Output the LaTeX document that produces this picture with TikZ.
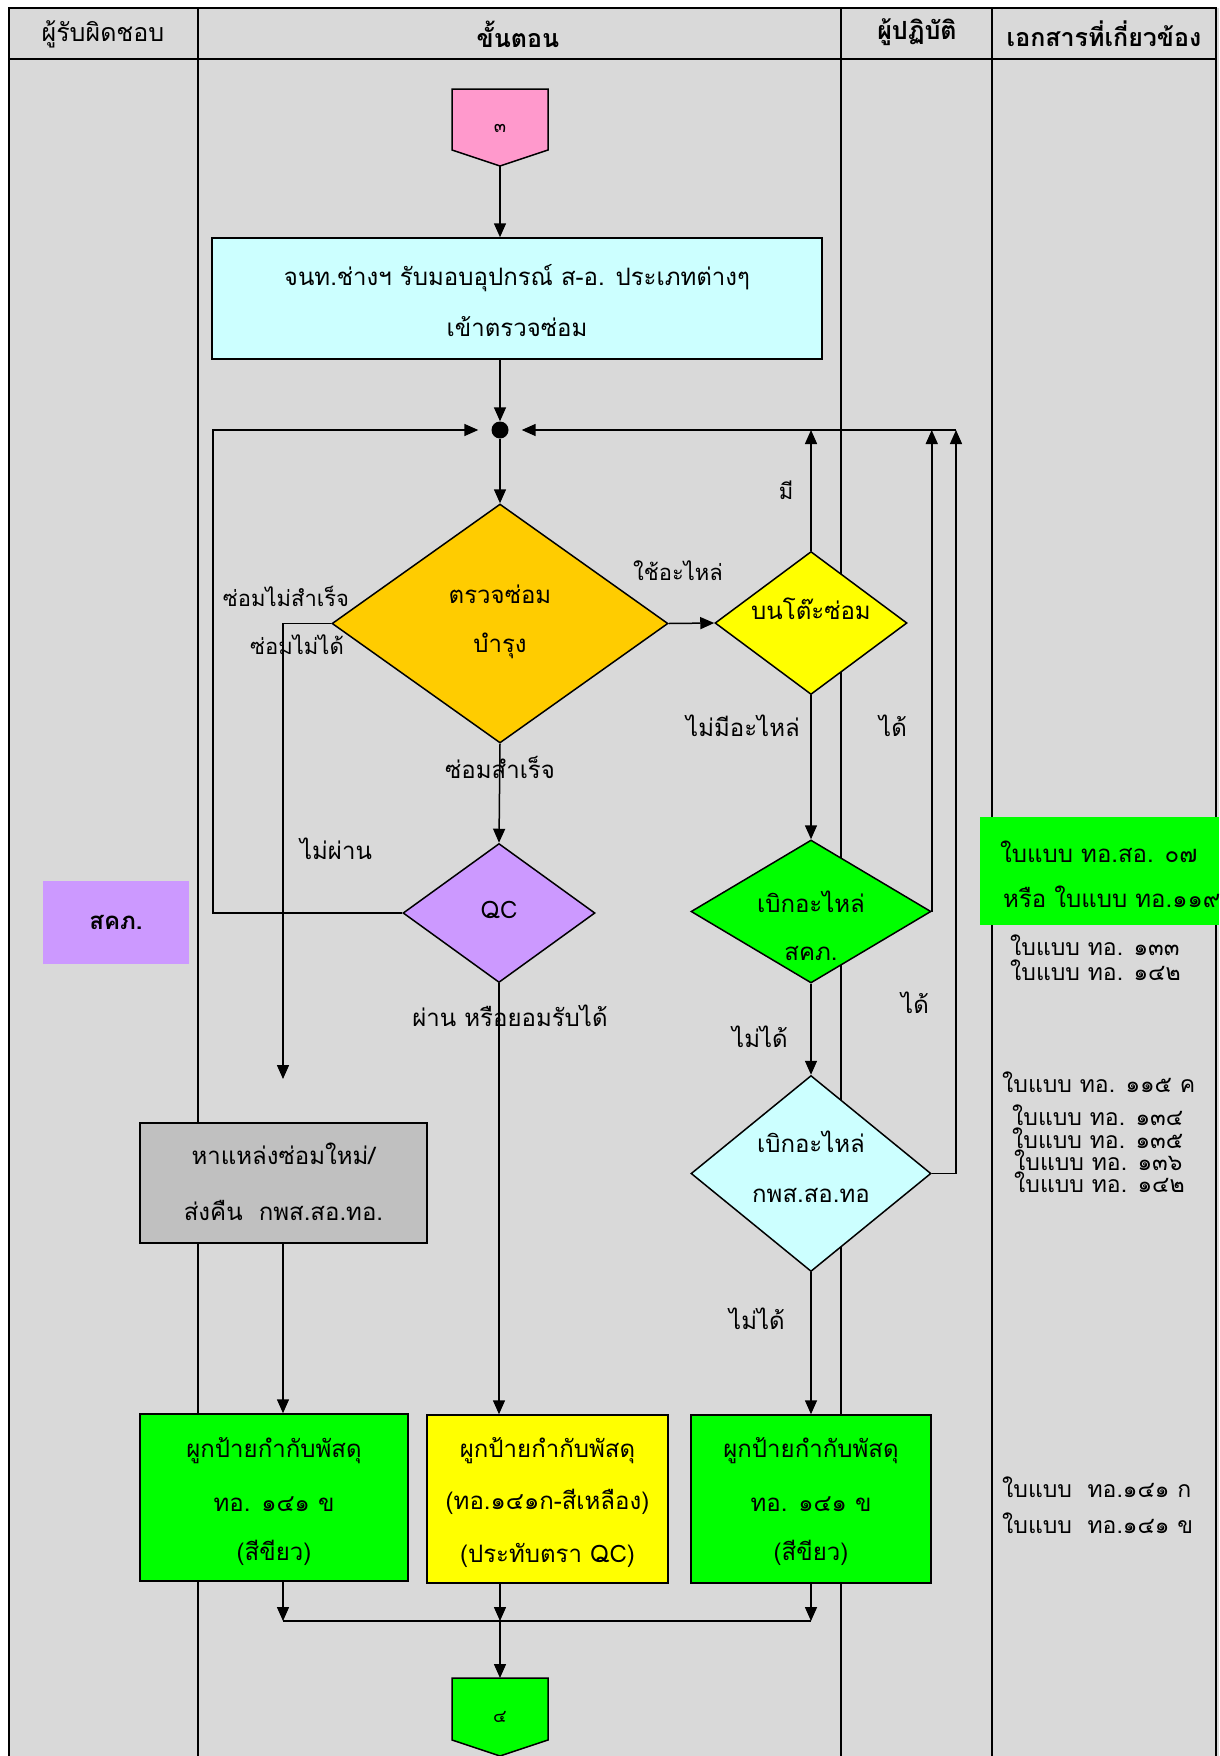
\documentclass[tikz,border=0pt]{standalone}
\usepackage{fontspec}
\setmainfont{Loma}[Script=Thai]
\usetikzlibrary{arrows.meta,shapes.geometric}
\definecolor{bgg}{HTML}{D9D9D9}
\definecolor{pinkc}{HTML}{FF99CC}
\definecolor{cyanb}{HTML}{CCFFFF}
\definecolor{orng}{HTML}{FFCC00}
\definecolor{yelw}{HTML}{FFFF00}
\definecolor{grn}{HTML}{00FF00}
\definecolor{purp}{HTML}{CC99FF}
\definecolor{grayb}{HTML}{C0C0C0}
\tikzset{
  frm/.style={line width=2pt},
  ln/.style={line width=1.5pt},
  arr/.style={line width=1.5pt,-{Triangle[length=14pt,width=12pt]}},
  shp/.style={draw,line width=1.5pt,inner sep=0pt},
  hdr/.style={font=\fontsize{25}{28}\selectfont},
  hdrb/.style={font=\bfseries\fontsize{25}{28}\selectfont},
  txt/.style={font=\fontsize{24}{28}\selectfont,inner sep=0pt},
  lbl/.style={font=\fontsize{22}{26}\selectfont,inner sep=0pt},
  doc/.style={font=\fontsize{23}{26}\selectfont,inner sep=0pt,anchor=west},
}
\begin{document}
\begin{tikzpicture}[x=1pt,y=-1pt]
\useasboundingbox (0,0) rectangle (1219,1756);
\fill[bgg] (9,8) rectangle (1219,1756);
% frame and columns
\draw[frm] (9,1756) -- (9,8) -- (1216,8) -- (1216,1756);
\draw[frm] (9,59) -- (1216,59);
\draw[frm] (198,8) -- (198,1756);
\draw[frm] (841,8) -- (841,1756);
\draw[frm] (992,8) -- (992,1756);
% headers
\node[hdr] (h1) at (103,34) {ผู้รับผิดชอบ};
\node[hdrb] (h2) at (518,34) {ขั้นตอน};
\node[hdrb] (h3) at (917,32) {ผู้ปฏิบัติ};
\node[hdrb] (h4) at (1104,34) {เอกสารที่เกี่ยวข้อง};
% connector 3
\filldraw[fill=pinkc,line width=1.5pt] (452,89) -- (548,89) -- (548,150) -- (500,166) -- (452,150) -- cycle;
\node[font=\fontsize{18}{20}\selectfont] (c3) at (500,128) {๓};
\coordinate (c3b) at (500,166);
% receive box
\node[shp,fill=cyanb,minimum width=610pt,minimum height=121pt] (box1) at (517,298.5) {};
\node[txt] (box1a) at (517,278) {จนท.ช่างฯ รับมอบอุปกรณ์ ส-อ. ประเภทต่างๆ};
\node[txt] (box1b) at (517,327) {เข้าตรวจซ่อม};
% junction
\node[circle,fill=black,inner sep=0pt,minimum size=17pt] (j) at (500,430) {};
% diamonds
\node[shp,diamond,fill=orng,minimum width=336pt,minimum height=239pt] (dor) at (500,623.5) {};
\node[txt] (dora) at (500,594) {ตรวจซ่อม};
\node[txt] (dorb) at (500,646) {บำรุง};
\node[shp,diamond,fill=yelw,minimum width=192pt,minimum height=143pt] (dy) at (811,623) {};
\node[txt] (dya) at (811,609) {บนโต๊ะซ่อม};
\node[shp,diamond,fill=purp,minimum width=192pt,minimum height=139pt] (qc) at (499,913) {};
\node[txt] (qca) at (499,910) {QC};
\node[shp,diamond,fill=grn,minimum width=240pt,minimum height=143pt] (dg) at (811,911.5) {};
\node[txt] (dga) at (811,902) {เบิกอะไหล่};
\node[txt] (dgb) at (811,953) {สคภ.};
\node[shp,diamond,fill=cyanb,minimum width=240pt,minimum height=196pt] (dc) at (811,1173.5) {};
\node[txt] (dca) at (811,1142) {เบิกอะไหล่};
\node[txt] (dcb) at (811,1195) {กพส.สอ.ทอ};
% gray box
\node[shp,fill=grayb,minimum width=287pt,minimum height=120pt] (gb) at (283.5,1183) {};
\node[txt] (gba) at (283.5,1154) {หาแหล่งซ่อมใหม่/};
\node[txt] (gbb) at (283.5,1210) {ส่งคืน\ \ กพส.สอ.ทอ.};
% bottom boxes
\node[shp,fill=grn,minimum width=268pt,minimum height=167pt] (b1) at (274,1497.5) {};
\node[txt] (b1a) at (274,1451) {ผูกป้ายกำกับพัสดุ};
\node[txt] (b1b) at (274,1504) {ทอ. ๑๔๑ ข};
\node[txt] (b1c) at (274,1553) {(สีขียว)};
\node[shp,fill=yelw,minimum width=241pt,minimum height=168pt] (b2) at (547.5,1499) {};
\node[txt] (b2a) at (547.5,1451) {ผูกป้ายกำกับพัสดุ};
\node[txt] (b2b) at (547.5,1502) {(ทอ.๑๔๑ก-สีเหลือง)};
\node[txt] (b2c) at (547.5,1555) {(ประทับตรา QC)};
\node[shp,fill=grn,minimum width=240pt,minimum height=168pt] (b3) at (811,1499) {};
\node[txt] (b3a) at (811,1451) {ผูกป้ายกำกับพัสดุ};
\node[txt] (b3b) at (811,1504) {ทอ. ๑๔๑ ข};
\node[txt] (b3c) at (811,1553) {(สีขียว)};
% connector 4
\filldraw[fill=grn,line width=1.5pt] (452,1678) -- (548,1678) -- (548,1740) -- (500,1756) -- (452,1740) -- cycle;
\node[font=\fontsize{18}{20}\selectfont] (c4) at (500,1717) {๔};
\coordinate (c4t) at (500,1678);
% left responsible box
\node[fill=purp,minimum width=146pt,minimum height=83pt,inner sep=0pt] (sk) at (116,922.5) {};
\node[font=\bfseries\fontsize{24}{28}\selectfont] (ska) at (116,922) {สคภ.};
% document column
\fill[grn] (980,817) rectangle (1219,925);
\node[doc,font=\fontsize{24}{26}\selectfont] (d1) at (1000,852) {ใบแบบ ทอ.สอ. ๐๗};
\node[doc,font=\fontsize{24}{26}\selectfont] (d2) at (1003,897) {หรือ ใบแบบ ทอ.๑๑๙};
\node[doc] (d3) at (1010,945) {ใบแบบ ทอ. ๑๓๓};
\node[doc] (d4) at (1010,970) {ใบแบบ ทอ. ๑๔๒};
\node[doc] (d5) at (1002,1082) {ใบแบบ ทอ. ๑๑๕ ค};
\node[doc] (d6) at (1012,1115) {ใบแบบ ทอ. ๑๓๔};
\node[doc] (d7) at (1012,1138) {ใบแบบ ทอ. ๑๓๕};
\node[doc] (d8) at (1014,1160) {ใบแบบ ทอ. ๑๓๖};
\node[doc] (d9) at (1014,1182) {ใบแบบ ทอ. ๑๔๒};
\node[doc] (d10) at (1002,1487) {ใบแบบ\ \ ทอ.๑๔๑ ก};
\node[doc] (d11) at (1002,1523) {ใบแบบ\ \ ทอ.๑๔๑ ข};
% coordinates
\coordinate (tr) at (956,430);
\coordinate (tl) at (213,430);
\coordinate (ofree) at (283,1079);
\coordinate (hb) at (500,1621);
% connectors
\draw[arr] (c3b) -- (c3b |- box1.north);
\draw[arr] (box1.south -| j) -- (j.north);
\draw[arr] (j) -- (dor.north);
\draw[arr] (dor.east) -- (dy.west);
\draw[arr] (dy.north) -- (dy.north |- tr);
\draw[arr] (dy.south) -- (dg.north);
\draw[arr] (dg.south) -- (dc.north);
\draw[arr] (dg.east) -- (dg.east |- tr);
\draw[arr] (dc.east) -| (tr);
\draw[arr,shorten >=13pt] (tr) -- (j);
\draw[arr,shorten >=13pt] (qc.west) -| (tl) -- (j);
\draw[arr] (dor.south) -- (qc.north);
\draw[arr] (dor.west) -| (ofree);
\draw[arr] (qc.south) -- (qc.south |- b2.north);
\draw[arr] (dc.south) -- (b3.north);
\draw[arr] (gb.south -| ofree) -- (b1.north -| ofree);
\draw[arr] (b1.south -| ofree) -- (ofree |- hb);
\draw[arr] (b3.south) -- (b3.south |- hb);
\draw[arr] (b2.south -| hb) -- (hb);
\draw[ln] (ofree |- hb) -- (b3.south |- hb);
\draw[arr] (hb) -- (c4t);
% labels
\node[lbl] (l1) at (678,571) {ใช้อะไหล่};
\node[lbl] (l2) at (786,490) {มี};
\node[font=\fontsize{24}{28}\selectfont,inner sep=0pt] (l3) at (743,726) {ไม่มีอะไหล่};
\node[font=\fontsize{24}{28}\selectfont,inner sep=0pt] (l4) at (893,726) {ได้};
\node[lbl] (l5) at (286,596) {ซ่อมไม่สำเร็จ};
\node[lbl] (l6) at (297,645) {ซ่อมไม่ได้};
\node[font=\fontsize{24}{28}\selectfont,inner sep=0pt] (l7) at (500,767) {ซ่อมสำเร็จ};
\node[font=\fontsize{24}{28}\selectfont,inner sep=0pt] (l8) at (336,849) {ไม่ผ่าน};
\node[font=\fontsize{24}{28}\selectfont,inner sep=0pt] (l9) at (510,1016) {ผ่าน หรือยอมรับได้};
\node[font=\fontsize{24}{28}\selectfont,inner sep=0pt] (l10) at (760,1037) {ไม่ได้};
\node[font=\fontsize{24}{28}\selectfont,inner sep=0pt] (l11) at (915,1003) {ได้};
\node[font=\fontsize{24}{28}\selectfont,inner sep=0pt] (l12) at (757,1319) {ไม่ได้};
\end{tikzpicture}
\end{document}
